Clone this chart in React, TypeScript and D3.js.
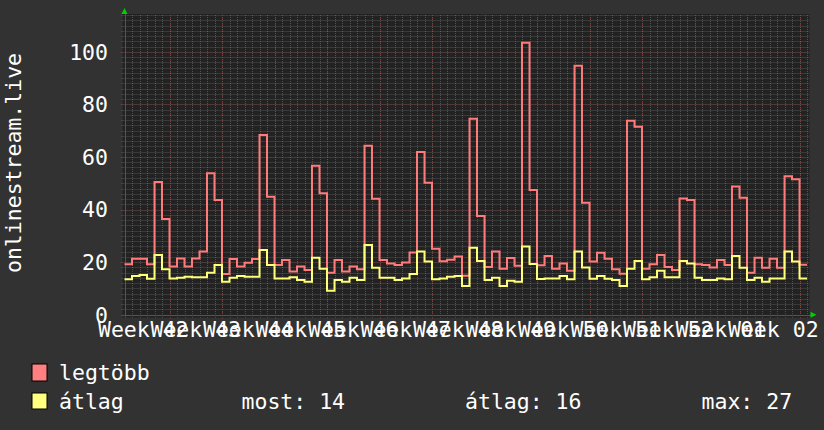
import React from "react";
import * as d3 from "d3";

const maxValues: number[] = [
  19.2, 21.3, 21.3, 19.2, 50.5, 36.4, 18.3, 21.4, 18.3, 21.4, 24, 53.8, 43.6, 15.5,
  21.2, 18.3, 19.8, 21.2, 68.4, 44.9, 18.9, 20.8, 16.4, 18.3, 17, 56.7, 46.2, 16,
  20.8, 16.4, 18.3, 17.3, 64.3, 44.1, 20.8, 19.5, 18.9, 19.9, 23.7, 61.9, 50.2, 25.1,
  20.3, 20.9, 22.1, 14.8, 74.5, 37.5, 18.1, 24, 17.5, 21.6, 18.6, 103.4, 47.4, 18.8,
  22.3, 17.5, 19.5, 16.7, 94.7, 42.6, 20.2, 23.6, 21.3, 17.3, 15.6, 73.8, 71.5, 17.5,
  19.2, 22.7, 18.1, 17, 44.2, 43.6, 19.2, 18.9, 18, 20.8, 18.9, 48.8, 44.5, 16,
  21.7, 17.9, 21.3, 17.9, 52.7, 51.5, 19,
];

const avgValues: number[] = [
  13.5, 14.7, 15.1, 13.7, 22.7, 17.3, 13.8, 14.1, 14.4, 14.2, 14.2, 16, 18.9, 12.5,
  14.1, 14.7, 14.4, 14.4, 24.6, 18.9, 13.8, 13.8, 14.2, 13.2, 12.5, 21.7, 17.5, 9.1,
  13.2, 12.5, 14.1, 13.2, 26.5, 17.9, 14.1, 14.1, 13.2, 13.8, 15.5, 24, 20.2, 13.5,
  13.8, 14.4, 14.7, 10.9, 25.5, 20.4, 13.2, 14.1, 10.9, 12.9, 12.5, 25.9, 19.3, 13.6,
  13.8, 13.8, 14.7, 13.5, 24, 18, 13.7, 14.7, 13.7, 13.2, 10.9, 17.5, 20.4, 13.5,
  14.2, 16.7, 14.2, 14.2, 20.4, 19.5, 14.1, 13.2, 13.2, 13.8, 13.5, 22.3, 17.9, 13.2,
  14.1, 12.5, 13.8, 13.8, 24, 20.2, 13.8,
];

const weekLabels: string[] = [
  "Week 42", "Week 43", "Week 44", "Week 45", "Week 46", "Week 47", "Week 48",
  "Week 49", "Week 50", "Week 51", "Week 52", "Week 01", "Week 02",
];

const yTicks: number[] = [0, 20, 40, 60, 80, 100];
const seriesNames: string[] = ["legtöbb", "átlag"];
const statLabels: string[] = ["most: 14", "átlag: 16", "max: 27"];

const W = 824;
const H = 430;
const FONT = "'DejaVu Sans Mono', monospace";
const FS = 21.5;

export default function App() {
  const nDays = maxValues.length;
  const x = d3.scaleLinear().domain([0, 91.33]).range([124.5, 809.5]);
  const y = d3.scaleLinear().domain([0, 114]).range([314.7, 15]);
  const px = (v: number) => Math.round(v) + 0.5;

  const stepLine = (vals: number[]) =>
    d3
      .line<[number, number]>()
      .x((d) => x(d[0]))
      .y((d) => y(d[1]))
      .curve(d3.curveStepAfter)(
      [...vals.map((v, i) => [i, v] as [number, number]), [nDays, vals[vals.length - 1]]]
    ) || "";

  const minorX = d3.range(0, 92);
  const majorX = d3.range(6, 92, 7);
  const minorY = d3.range(0, 115, 2);
  const majorY = d3.range(20, 115, 20);

  const minorColor = "rgba(150,150,150,0.42)";
  const majorColor = "rgba(170,55,55,0.55)";
  const x0 = x(0);
  const x1 = x(91.33);
  const yTop = y(114);
  const yBot = y(0);

  return (
    <svg
      width={W}
      height={H}
      style={{ position: "absolute", left: 0, top: 0, display: "block" }}
      fontFamily={FONT}
    >
      <rect x={0} y={0} width={W} height={H} fill="#323232" />
      <rect x={122.5} y={yTop - 1} width={x1 - 122.5} height={yBot - yTop + 4} fill="#222222" />

      {/* minor grid */}
      {minorX.map((d) => (
        <line key={"mx" + d} x1={px(x(d))} x2={px(x(d))} y1={yTop} y2={yBot + 3} stroke={minorColor} strokeWidth={1} strokeDasharray="1,1" />
      ))}
      {minorY.map((d) => (
        <line key={"my" + d} x1={x0 - 3} x2={x1} y1={px(y(d))} y2={px(y(d))} stroke={minorColor} strokeWidth={1} strokeDasharray="1,1" />
      ))}
      {/* major grid */}
      {majorX.map((d) => (
        <line key={"Mx" + d} x1={px(x(d))} x2={px(x(d))} y1={yTop} y2={yBot + 4} stroke={majorColor} strokeWidth={1} strokeDasharray="1,2" />
      ))}
      {majorY.map((d) => (
        <line key={"My" + d} x1={x0 - 4} x2={x1} y1={px(y(d))} y2={px(y(d))} stroke={majorColor} strokeWidth={1} strokeDasharray="1,2" />
      ))}

      {/* axes */}
      <line x1={x0 - 2} x2={x1 + 2} y1={px(yBot)} y2={px(yBot)} stroke="#555" strokeWidth={1} />
      <line x1={px(x0)} x2={px(x0)} y1={yTop - 2} y2={yBot + 2} stroke="#555" strokeWidth={1} />
      <path d={`M${x0 - 3},${yTop - 1} L${x0 + 3},${yTop - 1} L${x0},${yTop - 7} Z`} fill="#00d000" />
      <path d={`M${x1 + 1},${yBot - 3} L${x1 + 1},${yBot + 3} L${x1 + 7},${yBot} Z`} fill="#00d000" />

      {/* series */}
      <path d={stepLine(maxValues)} fill="none" stroke="#ff7b7b" strokeWidth={2} />
      <path d={stepLine(avgValues)} fill="none" stroke="#ffff78" strokeWidth={2} />

      {/* y tick labels */}
      {yTicks.map((t) => (
        <text key={"yt" + t} x={108} y={y(t) + 7.8} fill="#ffffff" fontSize={FS} textAnchor="end">
          {t}
        </text>
      ))}

      {/* x labels */}
      {weekLabels.map((lab, i) => (
        <text key={"xl" + i} x={x(2.5 + 7 * i)} y={337} fill="#ffffff" fontSize={FS} textAnchor="middle">
          {lab}
        </text>
      ))}

      {/* y title */}
      <text transform="translate(21,163) rotate(-90)" fill="#ffffff" fontSize={FS} textAnchor="middle">
        onlinestream.live
      </text>

      {/* legend */}
      <rect x={32} y={364} width={15} height={17} fill="#ff8080" stroke="#000" strokeWidth={1} />
      <text x={59} y={380} fill="#ffffff" fontSize={FS}>{seriesNames[0]}</text>
      <rect x={32} y={393} width={15} height={16} fill="#ffff80" stroke="#000" strokeWidth={1} />
      <text x={59} y={409} fill="#ffffff" fontSize={FS}>{seriesNames[1]}</text>
      <text x={241.5} y={409} fill="#ffffff" fontSize={FS}>{statLabels[0]}</text>
      <text x={465} y={409} fill="#ffffff" fontSize={FS}>{statLabels[1]}</text>
      <text x={701.5} y={409} fill="#ffffff" fontSize={FS}>{statLabels[2]}</text>
    </svg>
  );
}
